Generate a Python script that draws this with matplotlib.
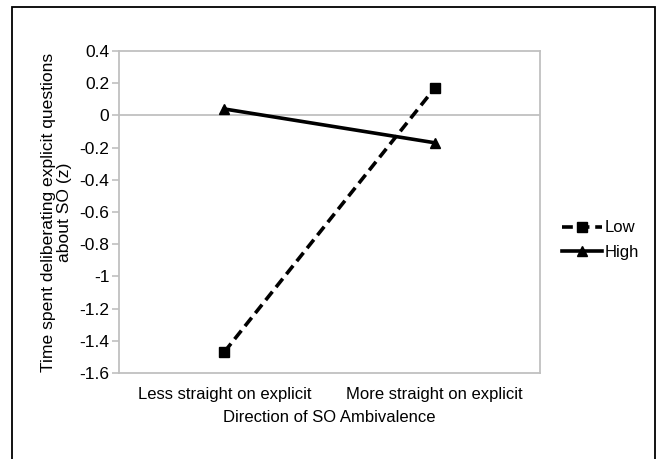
import matplotlib
matplotlib.use("Agg")
import matplotlib.pyplot as plt
from matplotlib.patches import Rectangle

plt.rcParams['font.family'] = ['Liberation Sans', 'DejaVu Sans']

categories = ['Less straight on explicit', 'More straight on explicit']
low = [-1.47, 0.17]
high = [0.04, -0.17]
yticks = [0.4, 0.2, 0, -0.2, -0.4, -0.6, -0.8, -1, -1.2, -1.4, -1.6]

W, H = 657, 459
fig = plt.figure(figsize=(W/100, H/100), dpi=100)
ax = fig.add_axes([119/W, 1-373/H, 421/W, 322/H])

# outer chart border
fig.patches.append(Rectangle((12/W, -0.05), 643/W, 1-7/H+0.05,
                             transform=fig.transFigure, fill=False,
                             edgecolor='black', linewidth=1.3))

x = range(len(categories))
ax.axhline(0, color='#c0c0c0', linewidth=1.3, zorder=1)
ax.plot(x, low, color='black', linestyle=(0, (3, 1.6)), linewidth=2.6,
        marker='s', markersize=7.5, label='Low', zorder=3)
ax.plot(x, high, color='black', linestyle='-', linewidth=2.6,
        marker='^', markersize=7.5, label='High', zorder=3)

ax.set_xlim(-0.5, 1.5)
ax.set_ylim(-1.6, 0.4)
ax.set_yticks(yticks)
ax.set_yticklabels([('%g' % v) for v in yticks])
ax.set_xticks(list(x))
ax.set_xticklabels(categories)
ax.tick_params(axis='x', length=0, labelsize=12, pad=10)
ax.tick_params(axis='y', length=5, width=1.2, color='#c0c0c0', labelsize=12.5, pad=2)
for s in ax.spines.values():
    s.set_color('#c0c0c0')
    s.set_linewidth(1.3)

ax.set_xlabel('Direction of SO Ambivalence', fontsize=12, labelpad=6)
ax.set_ylabel('Time spent deliberating explicit questions\nabout SO (z)',
              fontsize=12.6, linespacing=1.1)
ax.yaxis.set_label_coords(-(119-72)/421, 0.5)

ax.legend(loc='center left', bbox_to_anchor=(562/W, 1-240/H),
          bbox_transform=fig.transFigure, frameon=False, borderpad=0,
          borderaxespad=0, fontsize=12, handlelength=2.4,
          handletextpad=0.18, labelspacing=0.55)

fig.savefig('out.png', dpi=100)
